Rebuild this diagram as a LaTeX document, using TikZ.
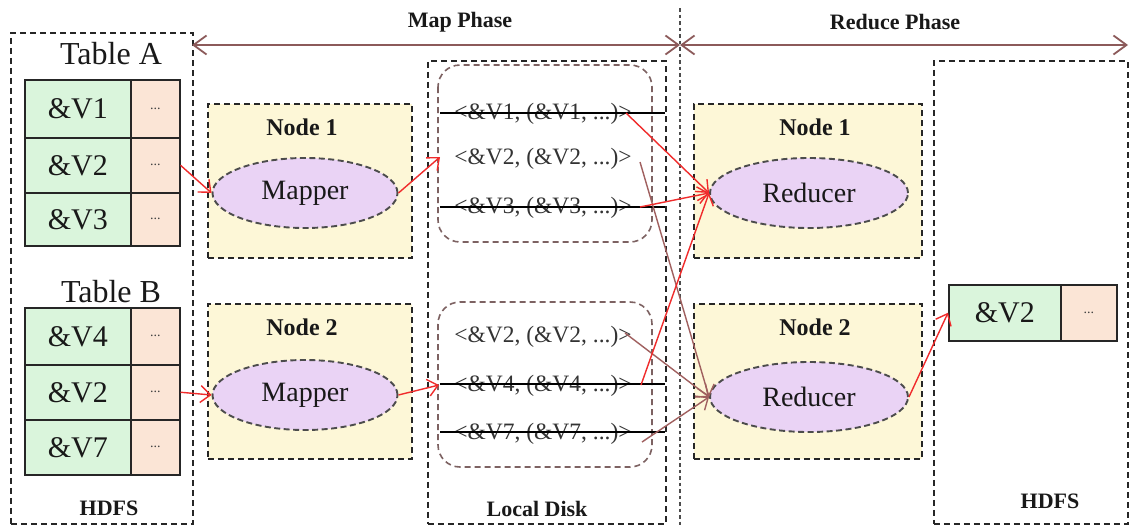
\documentclass[tikz,border=0pt]{standalone}
\usepackage{fontspec}
\setmainfont{Liberation Serif}
\usetikzlibrary{shapes.geometric,arrows.meta}
\definecolor{tgreen}{HTML}{DAF5DC}
\definecolor{tpeach}{HTML}{FBE5D6}
\definecolor{nyellow}{HTML}{FDF7D7}
\definecolor{elav}{HTML}{EAD3F5}
\definecolor{ared}{HTML}{F02B2B}
\definecolor{abrown}{HTML}{A0605F}
\definecolor{pbrown}{HTML}{8C5A5A}
\definecolor{rbox}{HTML}{7D6262}
\begin{document}
\begin{tikzpicture}[x=1pt,y=-1pt,
  dbox/.style={draw=black!85, dash pattern=on 6pt off 4pt, line width=1.9pt, inner sep=0, anchor=north west},
  nodebox/.style={dbox, fill=nyellow},
  cellg/.style={draw=black!85, line width=1.5pt, fill=tgreen, inner sep=0, anchor=north west, minimum width=106, text=black!90, font=\fontsize{30}{30}\selectfont},
  cellp/.style={draw=black!85, line width=1.5pt, fill=tpeach, inner sep=0, anchor=north west, minimum width=49, text=black!75, font=\fontsize{14}{14}\selectfont},
  ell/.style={ellipse, draw=black!70, fill=elav, dash pattern=on 6pt off 3.5pt, line width=1.9pt, minimum width=185, minimum height=70, inner sep=0, text=black!90, font=\fontsize{28}{28}\selectfont},
  lab/.style={inner sep=0, text=black!90, font=\bfseries\fontsize{22}{22}\selectfont},
  ttl/.style={inner sep=0, text=black!90, font=\fontsize{32}{32}\selectfont},
  kv/.style={inner sep=0, text=black!80, font=\fontsize{23.5}{23.5}\selectfont},
  rbx/.style={draw=rbox, dash pattern=on 6pt off 4pt, line width=1.6pt, rounded corners=22pt},
  strike/.style={draw=black, line width=1.6pt},
  redarr/.style={draw=ared, line width=1.4pt, -{Straight Barb[length=10pt,width=17pt]}},
  brnarr/.style={draw=abrown, line width=1.4pt, -{Straight Barb[length=10pt,width=17pt]}},
  phase/.style={draw=pbrown, line width=1.8pt, {Straight Barb[length=13pt,width=19pt]}-{Straight Barb[length=13pt,width=19pt]}}
]
\useasboundingbox (0,0) rectangle (1131,525);
\fill[white] (0,0) rectangle (1131,525);

% containers
\node[dbox, minimum width=182, minimum height=491] (hdfsL) at (10,32) {};
\node[dbox, minimum width=238, minimum height=463] (disk) at (427,60) {};
\node[dbox, minimum width=194, minimum height=463] (hdfsR) at (933,60) {};

% phase divider and arrows
\coordinate (vtop) at (680,8);
\coordinate (vbot) at (680,525);
\draw[black!70, dash pattern=on 3.5pt off 3pt, line width=1.4pt] (vtop) -- (vbot);
\coordinate (pL) at (192,45);
\coordinate (pM) at (680,45);
\coordinate (pR) at (1128,45);
\draw[phase] (pL) -- (pM);
\draw[phase] (pM) -- (pR);
\node[lab] (mapph) at (460,22) {Map Phase};
\node[lab] (redph) at (895,22) {Reduce Phase};

% Table A
\node[ttl] (tA) at (111,54) {Table A};
\node[cellg, minimum height=58] (a1g) at (24,79) {\&V1};
\node[cellp, minimum height=58] (a1p) at (130,79) {...};
\node[cellg, minimum height=55] (a2g) at (24,137) {\&V2};
\node[cellp, minimum height=55] (a2p) at (130,137) {...};
\node[cellg, minimum height=53] (a3g) at (24,192) {\&V3};
\node[cellp, minimum height=53] (a3p) at (130,192) {...};

% Table B
\node[ttl] (tB) at (111,292) {Table B};
\node[cellg, minimum height=57] (b1g) at (24,307) {\&V4};
\node[cellp, minimum height=57] (b1p) at (130,307) {...};
\node[cellg, minimum height=55] (b2g) at (24,364) {\&V2};
\node[cellp, minimum height=55] (b2p) at (130,364) {...};
\node[cellg, minimum height=55] (b3g) at (24,419) {\&V7};
\node[cellp, minimum height=55] (b3p) at (130,419) {...};
\node[lab] (hdfsLl) at (109,508) {HDFS};

% Map nodes
\node[nodebox, minimum width=204, minimum height=154] (mn1) at (207,103) {};
\node[lab, font=\bfseries\fontsize{24}{24}\selectfont] (mn1t) at (302,127) {Node 1};
\node[ell] (m1) at (305,193) {Mapper};
\node[nodebox, minimum width=204, minimum height=155] (mn2) at (207,303) {};
\node[lab, font=\bfseries\fontsize{24}{24}\selectfont] (mn2t) at (302,327) {Node 2};
\node[ell] (m2) at (305,395) {Mapper};

% Local disk
\draw[rbx] (438,65) rectangle (652,242);
\draw[rbx] (438,302) rectangle (652,467);
\node[kv] (k1) at (543,114) {<\&V1, (\&V1, ...)>};
\node[kv] (k2) at (543,159) {<\&V2, (\&V2, ...)>};
\node[kv] (k3) at (543,208) {<\&V3, (\&V3, ...)>};
\node[kv] (k4) at (543,337) {<\&V2, (\&V2, ...)>};
\node[kv] (k5) at (543,386) {<\&V4, (\&V4, ...)>};
\node[kv] (k6) at (543,434) {<\&V7, (\&V7, ...)>};
\draw[strike] (440,113) -- (665,113);
\draw[strike] (440,207) -- (665,207);
\draw[strike] (440,384) -- (665,384);
\draw[strike] (440,432) -- (665,432);
\node[lab] (diskl) at (537,509) {Local Disk};

% Reduce nodes
\node[nodebox, minimum width=228, minimum height=154] (rn1) at (693,103) {};
\node[lab, font=\bfseries\fontsize{24}{24}\selectfont] (rn1t) at (815,127) {Node 1};
\node[ell, minimum width=198] (r1) at (809,193) {Reducer};
\node[nodebox, minimum width=228, minimum height=155] (rn2) at (693,303) {};
\node[lab, font=\bfseries\fontsize{24}{24}\selectfont] (rn2t) at (815,327) {Node 2};
\node[ell, minimum width=198] (r2) at (809,397) {Reducer};

% Output
\node[cellg, minimum width=112, minimum height=56] (o1g) at (948,284) {\&V2};
\node[cellp, minimum width=56, minimum height=56] (o1p) at (1060,284) {...};
\node[lab] (hdfsRl) at (1050,501) {HDFS};

% connectors
\coordinate (k2in) at (440,157);
\coordinate (k5in) at (439,385);
\coordinate (k1out) at (626,113);
\coordinate (k2out) at (640,162);
\coordinate (k3out) at (640,207);
\coordinate (k4out) at (625,333);
\coordinate (k5out) at (641,385);
\coordinate (k6out) at (642,442);
\draw[redarr] (a2p.east) -- (m1.west);
\draw[redarr] (m1.east) -- (k2in);
\draw[redarr] (b2p.east) -- (m2.west);
\draw[redarr] (m2.east) -- (k5in);
\draw[brnarr] (k2out) -- (r2.west);
\draw[brnarr] (k4out) -- (r2.west);
\draw[brnarr] (k6out) -- (r2.west);
\draw[redarr] (k1out) -- (r1.west);
\draw[redarr] (k3out) -- (r1.west);
\draw[redarr] (k5out) -- (r1.west);
\draw[redarr] (r2.east) -- (o1g.west);
\end{tikzpicture}
\end{document}
